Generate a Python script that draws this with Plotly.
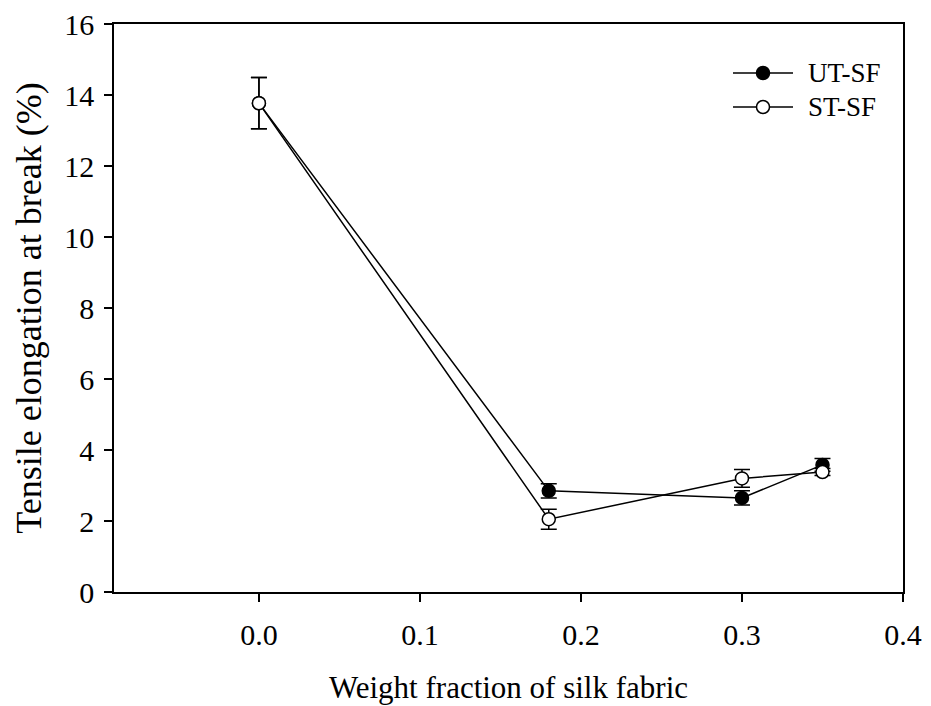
import plotly.graph_objects as go

# Tensile elongation at break vs. silk fabric weight fraction
weight_fraction = [0.0, 0.18, 0.30, 0.35]

ut_sf = [13.77, 2.85, 2.65, 3.58]
ut_sf_err = [0.72, 0.20, 0.20, 0.18]

st_sf = [13.77, 2.05, 3.20, 3.38]
st_sf_err = [0.72, 0.28, 0.25, 0.10]

x_ticks = [0.0, 0.1, 0.2, 0.3, 0.4]
y_ticks = [0, 2, 4, 6, 8, 10, 12, 14, 16]

series_names = ["UT-SF", "ST-SF"]
series_fill = ["black", "white"]

FONT = "Liberation Serif, Times New Roman, serif"
MARKER_SIZE = 13

fig = go.Figure()

err_style = dict(type="data", visible=True, color="black", thickness=1.5, width=8)

for name, fill, ys, errs in [
    (series_names[0], series_fill[0], ut_sf, ut_sf_err),
    (series_names[1], series_fill[1], st_sf, st_sf_err),
]:
    fig.add_trace(go.Scatter(
        x=weight_fraction, y=ys, name=name, mode="lines+markers",
        line=dict(color="black", width=1.5),
        marker=dict(symbol="circle", size=MARKER_SIZE, color=fill,
                    line=dict(color="black", width=1.5)),
        error_y=dict(array=errs, **err_style),
        showlegend=False,
    ))

axis_common = dict(
    showline=True, linecolor="black", linewidth=1.5, mirror=True,
    ticks="outside", ticklen=8, tickwidth=1.5, tickcolor="black",
    showgrid=False, zeroline=False, automargin=False,
    tickfont=dict(family=FONT, size=30, color="black"),
)

fig.update_xaxes(
    range=[-0.09, 0.4], tickvals=x_ticks, ticktext=[f"{v:.1f}" for v in x_ticks],
    title=dict(text="Weight fraction of silk fabric",
               font=dict(family=FONT, size=31, color="black"), standoff=27),
    ticklabelstandoff=7,
    **axis_common,
)
fig.update_yaxes(
    range=[0, 16], tickvals=y_ticks,
    title=dict(text="Tensile elongation at break (%)",
               font=dict(family=FONT, size=36, color="black"), standoff=12),
    ticklabelstandoff=4,
    **axis_common,
)

# Key in the upper-right corner: line sample, marker, label
L, R, T, B = 114, 903, 24, 592  # plot-area edges in px (from margins below)
def px_to_paper_x(px):
    return (px - L) / (R - L)
def px_to_paper_y(py):
    return (B - py) / (B - T)

shapes = []
annotations = []
legend_rows = [73, 107]
for name, fill, row in zip(series_names, series_fill, legend_rows):
    yp = px_to_paper_y(row)
    shapes.append(dict(type="line", xref="paper", yref="paper",
                       x0=px_to_paper_x(733), x1=px_to_paper_x(793), y0=yp, y1=yp,
                       line=dict(color="black", width=1.5)))
    r = MARKER_SIZE / 2
    shapes.append(dict(type="circle", xref="paper", yref="paper",
                       xsizemode="pixel", ysizemode="pixel",
                       xanchor=px_to_paper_x(763), yanchor=yp,
                       x0=-r, x1=r, y0=-r, y1=r,
                       fillcolor=fill, line=dict(color="black", width=1.5)))
    annotations.append(dict(xref="paper", yref="paper", x=px_to_paper_x(806), y=yp,
                            xanchor="left", yanchor="middle", showarrow=False,
                            text=name, font=dict(family=FONT, size=27, color="black")))

fig.update_layout(
    width=931, height=706,
    margin=dict(l=L, r=931 - R, t=T, b=706 - B),
    paper_bgcolor="white", plot_bgcolor="white",
    showlegend=False,
    shapes=shapes,
    annotations=annotations,
)

fig.write_html("out.html")
